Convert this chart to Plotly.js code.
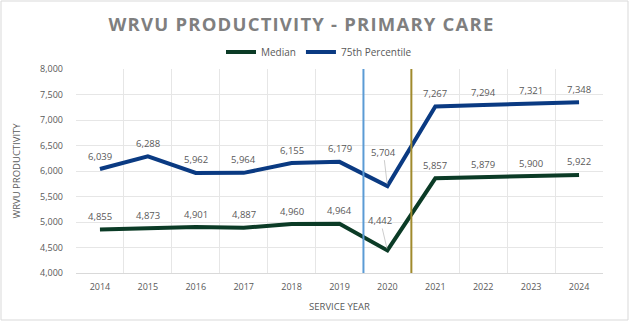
<!DOCTYPE html>
<html>
<head>
<meta charset="utf-8">
<script src="https://cdn.plot.ly/plotly-3.0.1.min.js"></script>
<style>
html,body{margin:0;padding:0;background:#fff;}
#chart{width:633px;height:324px;}
.gtitle{letter-spacing:1.2px;}
</style>
</head>
<body>
<div id="chart"></div>
<script>
var years = ['2014','2015','2016','2017','2018','2019','2020','2021','2022','2023','2024'];
var median = [4855,4873,4901,4887,4960,4964,4442,5857,5879,5900,5922];
var p75 = [6039,6288,5962,5964,6155,6179,5704,7267,7294,7321,7348];
var seriesNames = ['Median','75th Percentile'];
var seriesColors = ['#0b3b26','#0a3a82'];
var markerLines = [{after:'2019', color:'#5b9bd5'},{after:'2020', color:'#a08a2c'}];

var txtFont = {family:'Open Sans, sans-serif', size:9, color:'#595959'};

var traces = [median, p75].map(function(vals, i){
  return {x: years, y: vals, type:'scatter', mode:'lines', name: seriesNames[i],
    line:{color: seriesColors[i], width:4}, hoverinfo:'skip'};
});

var annotations = [];
[median, p75].forEach(function(vals, s){
  vals.forEach(function(v, i){
    var lbl = v.toLocaleString('en-US');
    var f = {family:'Open Sans, sans-serif', size:9.5, color:'#595959'};
    if (years[i] === '2020') {
      annotations.push({xref:'x', yref:'y', x: i, y: v, text: lbl, showarrow:true, arrowhead:0,
        arrowwidth:0.8, arrowcolor:'#bfbfbf', ax: (s===0?-7:-4), ay: (s===0?-30:-34),
        font: f, standoff:2});
    } else {
      annotations.push({xref:'x', yref:'y', x: i, y: v, text: lbl, showarrow:false, yshift:13, font: f});
    }
  });
});

var shapes = markerLines.map(function(m){
  var xi = years.indexOf(m.after) + 0.5;
  return {type:'line', xref:'x', yref:'paper', x0: xi, x1: xi, y0:0, y1:1,
    line:{color:m.color, width:2}};
});
// chart border
var pw = 527, ph = 204, L = 76, T = 69;
shapes.push({type:'rect', xref:'paper', yref:'paper',
  x0:(1-L)/pw, x1:(628-L)/pw, y0:(T+ph-320)/ph, y1:(T+ph-1)/ph,
  line:{color:'#d9d9d9', width:1}, fillcolor:'rgba(0,0,0,0)', layer:'below'});

var layout = {
  width:633, height:324,
  margin:{l:76, r:30, t:69, b:51},
  paper_bgcolor:'#fff', plot_bgcolor:'#fff',
  title:{text:'<b>WRVU PRODUCTIVITY - PRIMARY CARE</b>', x:301.5/633, xanchor:'center', y:1-25/324, yanchor:'middle',
    font:{family:'Open Sans, sans-serif', size:18.5, color:'#7f7f7f'}},
  showlegend:true,
  legend:{orientation:'h', x:(319-L)/pw, xanchor:'center', y:(T+ph-52)/ph, yanchor:'middle',
    font:{family:'Open Sans, sans-serif', size:10, color:'#595959'}, bgcolor:'rgba(0,0,0,0)', itemwidth:30},
  xaxis:{type:'category', range:[-0.5,10.5], tickson:'boundaries', showgrid:true, gridcolor:'#e6e6e6',
    ticks:'', showline:true, linecolor:'#d9d9d9', linewidth:1, zeroline:false,
    tickfont:txtFont, ticklabelstandoff:5, fixedrange:true,
    title:{text:'SERVICE YEAR', font:{family:'Open Sans, sans-serif', size:9.5, color:'#595959'}, standoff:11}},
  yaxis:{range:[4000,8000], dtick:500, tickformat:',d', showgrid:true, gridcolor:'#e6e6e6',
    zeroline:false, showline:false, ticks:'', tickfont:txtFont, ticklen:0, ticklabelstandoff:12, fixedrange:true,
    title:{text:'WRVU PRODUCTIVITY', font:{family:'Open Sans, sans-serif', size:9.5, color:'#595959'}, standoff:17}},
  annotations: annotations,
  shapes: shapes
};

Plotly.newPlot('chart', traces, layout, {displayModeBar:false, staticPlot:true});
</script>
</body>
</html>
